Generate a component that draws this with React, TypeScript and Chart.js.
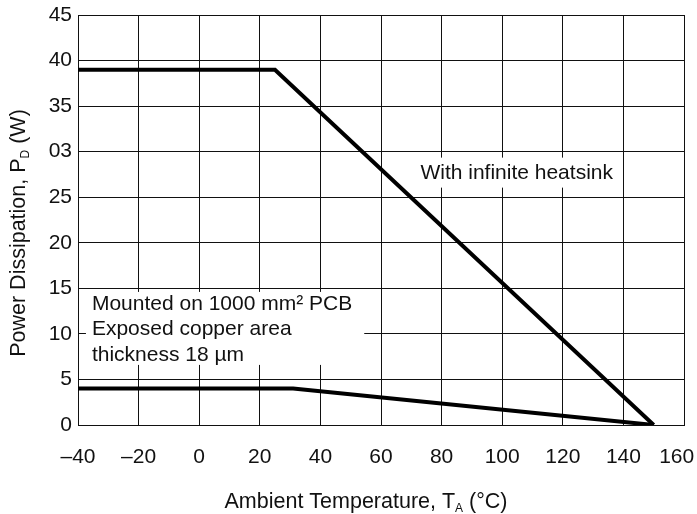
import { useEffect, useRef } from "react";
import { Chart, registerables } from "chart.js";

Chart.register(...registerables);

// ---- data ----
const X_MIN = -40;
const X_MAX = 160;
const X_STEP = 20;
const Y_MIN = 0;
const Y_MAX = 45;
const Y_STEP = 5;
const Y_TICK_LABELS = ["0", "5", "10", "15", "20", "25", "03", "35", "40", "45"];

const HEATSINK_T = [-40, 25, 150];
const HEATSINK_P = [39, 39, 0];
const PCB_T = [-40, 31, 150];
const PCB_P = [4, 4, 0];

const HEATSINK_LABEL = ["With infinite heatsink"];
const PCB_LABEL = ["Mounted on 1000 mm² PCB", "Exposed copper area", "thickness 18 µm"];
const X_TITLE = ["Ambient Temperature, T", "A", " (°C)"];
const Y_TITLE = ["Power Dissipation, P", "D", " (W)"];

const FONT = '"Liberation Sans", Arial, Helvetica, sans-serif';
const INK = "#111";

function drawSubTitle(ctx: CanvasRenderingContext2D, parts: string[], cx: number, baseY: number, size: number) {
  const main = `${size}px ${FONT}`;
  const sub = `${Math.round(size * 0.55)}px ${FONT}`;
  ctx.font = main;
  const w0 = ctx.measureText(parts[0]).width;
  const w2 = ctx.measureText(parts[2]).width;
  ctx.font = sub;
  const w1 = ctx.measureText(parts[1]).width;
  let x = cx - (w0 + w1 + w2) / 2;
  ctx.textAlign = "left";
  ctx.textBaseline = "alphabetic";
  ctx.font = main;
  ctx.fillText(parts[0], x, baseY);
  x += w0;
  ctx.font = sub;
  ctx.fillText(parts[1], x, baseY + 4);
  x += w1;
  ctx.font = main;
  ctx.fillText(parts[2], x, baseY);
}

const annotationPlugin = {
  id: "notes",
  beforeDatasetsDraw(chart: any) {
    const { ctx, scales } = chart;
    const xs = scales.x;
    const ys = scales.y;
    const notes = [
      { lines: HEATSINK_LABEL, x: 73, y: 27.7, padL: 4, padR: 7, padY: 15 },
      { lines: PCB_LABEL, x: -35.4, y: 13.4, padL: 6, padR: 12, padY: 11 },
    ];
    const size = 21;
    const lh = 25.5;
    ctx.save();
    ctx.font = `${size}px ${FONT}`;
    for (const n of notes) {
      const left = xs.getPixelForValue(n.x);
      const top = ys.getPixelForValue(n.y);
      let w = 0;
      for (const l of n.lines) w = Math.max(w, ctx.measureText(l).width);
      const h = (n.lines.length - 1) * lh;
      ctx.fillStyle = "#fff";
      ctx.fillRect(left - n.padL, top - n.padY, w + n.padL + n.padR, h + 2 * n.padY);
      ctx.fillStyle = INK;
      ctx.textAlign = "left";
      ctx.textBaseline = "middle";
      n.lines.forEach((l, i) => ctx.fillText(l, left, top + i * lh + 1));
    }
    ctx.restore();
  },
  afterDraw(chart: any) {
    const { ctx, chartArea } = chart;
    ctx.save();
    ctx.fillStyle = INK;
    drawSubTitle(ctx, X_TITLE, (chartArea.left + chartArea.right) / 2 - 15, 508, 21.5);
    ctx.translate(25, (chartArea.top + chartArea.bottom) / 2 + 13);
    ctx.rotate(-Math.PI / 2);
    drawSubTitle(ctx, Y_TITLE, 0, 0, 21.5);
    ctx.restore();
  },
};

export default function App() {
  const ref = useRef<HTMLCanvasElement | null>(null);

  useEffect(() => {
    if (!ref.current) return;
    const chart = new Chart(ref.current, {
      type: "scatter",
      data: {
        datasets: [
          {
            label: "With infinite heatsink",
            data: HEATSINK_T.map((t, i) => ({ x: t, y: HEATSINK_P[i] })),
            showLine: true,
            borderColor: "#000",
            borderWidth: 4,
            pointRadius: 0,
            fill: false,
          },
          {
            label: "Mounted on 1000 mm² PCB",
            data: PCB_T.map((t, i) => ({ x: t, y: PCB_P[i] })),
            showLine: true,
            borderColor: "#000",
            borderWidth: 4,
            pointRadius: 0,
            fill: false,
          },
        ],
      },
      options: {
        animation: false,
        responsive: false,
        maintainAspectRatio: false,
        layout: { padding: { top: 15, right: 13, left: 0, bottom: 0 } },
        plugins: { legend: { display: false }, tooltip: { enabled: false } },
        scales: {
          x: {
            type: "linear",
            min: X_MIN,
            max: X_MAX,
            ticks: {
              stepSize: X_STEP,
              color: INK,
              padding: 20,
              maxRotation: 0,
              font: { family: FONT, size: 21 },
              callback: (v: any) =>
                v < 0 ? "–" + -v : v === X_MAX ? String(v) + "\u2002\u2009" : String(v),
            },
            grid: { color: "#111", lineWidth: 1, drawTicks: false },
            border: { color: "#111", width: 1 },
            afterFit: (s: any) => {
              s.height = 89;
              s.paddingLeft = 0;
              s.paddingRight = 0;
            },
          },
          y: {
            type: "linear",
            min: Y_MIN,
            max: Y_MAX,
            ticks: {
              stepSize: Y_STEP,
              color: INK,
              padding: 6,
              font: { family: FONT, size: 21 },
              callback: (v: any) => Y_TICK_LABELS[Math.round(v / Y_STEP)],
            },
            grid: { color: "#111", lineWidth: 1, drawTicks: false },
            border: { color: "#111", width: 1 },
            afterFit: (s: any) => {
              s.width = 78;
              s.paddingTop = 0;
              s.paddingBottom = 0;
            },
          },
        },
      },
      plugins: [annotationPlugin],
    });
    return () => chart.destroy();
  }, []);

  return (
    <div style={{ position: "fixed", left: 0, top: 0, width: 697, height: 514, background: "#fff" }}>
      <canvas ref={ref} width={697} height={514} style={{ display: "block", width: 697, height: 514 }} />
    </div>
  );
}
